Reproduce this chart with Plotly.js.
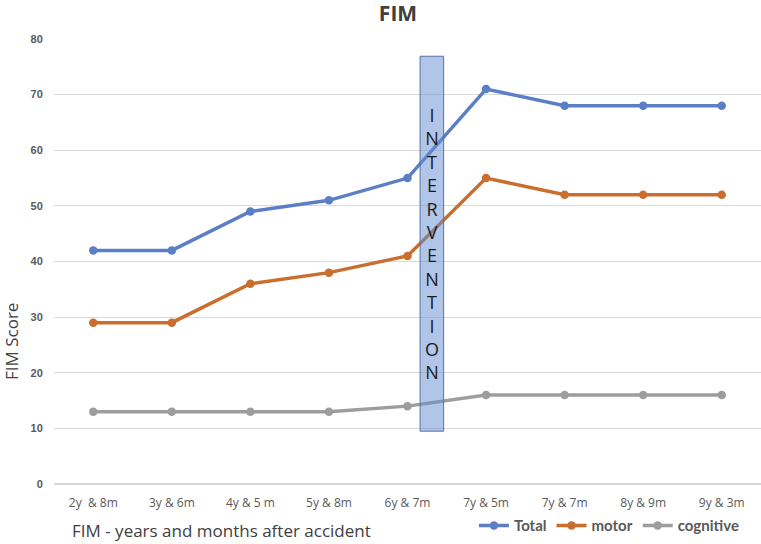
<!DOCTYPE html>
<html>
<head>
<meta charset="utf-8">
<script src="https://cdn.plot.ly/plotly-3.0.1.min.js"></script>
<style>html,body{margin:0;padding:0;background:#fff;}#chart{width:761px;height:544px;}</style>
</head>
<body>
<div id="chart"></div>
<script>
const categories = ["2y  & 8m", "3y & 6m", "4y & 5 m", "5y & 8m", "6y & 7m", "7y & 5m", "7y & 7m", "8y & 9m", "9y & 3m"];
const total = [42, 42, 49, 51, 55, 71, 68, 68, 68];
const motor = [29, 29, 36, 38, 41, 55, 52, 52, 52];
const cognitive = [13, 13, 13, 13, 14, 16, 16, 16, 16];
const interventionLabel = "INTERVENTION";

const idx = categories.map((c, i) => i);
function series(name, y, color) {
  return {
    type: 'scatter', mode: 'lines+markers', name: name,
    x: idx, y: y,
    line: {color: color, width: 3.5},
    marker: {color: color, size: 8.5}
  };
}
const data = [
  series('Total', total, '#5b7fc7'),
  series('motor', motor, '#c96e2e'),
  series('cognitive', cognitive, '#9d9d9d')
];
const layout = {
  width: 761, height: 544,
  margin: {l: 54, r: 0, t: 39, b: 60},
  paper_bgcolor: '#fff', plot_bgcolor: '#fff',
  font: {family: 'Open Sans, Liberation Sans, sans-serif', color: '#595959'},
  title: {text: '<b>FIM</b>', x: 0.523, xanchor: 'center', y: 1 - 14 / 544, yanchor: 'middle', pad: {t: 0, b: 0},
          font: {size: 21, color: '#404040', family: 'Open Sans, Liberation Sans, sans-serif'}},
  xaxis: {
    range: [-0.5, 8.5], tickmode: 'array', tickvals: idx, ticktext: categories,
    showgrid: false, zeroline: false, showline: false,
    ticks: 'outside', ticklen: 8, tickcolor: 'rgba(0,0,0,0)',
    tickfont: {size: 12, color: '#595959'}
  },
  yaxis: {
    range: [0, 80], dtick: 10, showgrid: true, gridcolor: '#d9d9d9', gridwidth: 1,
    zeroline: true, zerolinecolor: '#d9d9d9', zerolinewidth: 1.5, showline: false,
    ticks: 'outside', ticklen: 8, tickcolor: 'rgba(0,0,0,0)',
    tickfont: {size: 11, color: '#595959', family: 'Liberation Sans, Arial, sans-serif', weight: 'bold'}
  },
  showlegend: true,
  legend: {orientation: 'h', x: 0.594, xanchor: 'left', y: -0.094, yanchor: 'middle',
           font: {size: 15, color: '#595959', weight: 'bold', family: 'Lato, Open Sans, sans-serif'},
           tracegroupgap: 0, bgcolor: 'rgba(0,0,0,0)'},
  shapes: [{
    type: 'rect', xref: 'x', yref: 'y', x0: 4.16, x1: 4.46, y0: 9.5, y1: 76.9,
    fillcolor: 'rgba(100,140,210,0.5)', line: {color: '#5573a8', width: 1}, layer: 'above'
  }],
  annotations: [
    {text: interventionLabel.split('').join('<br>'), xref: 'x', yref: 'paper', x: 4.31, y: (484 - 243) / 445,
     showarrow: false, xanchor: 'center', yanchor: 'middle',
     font: {size: 18, color: '#1a1a1a', family: 'Open Sans, Liberation Sans, sans-serif'}},
    {text: 'FIM Score', xref: 'paper', yref: 'paper', x: -54 / 707 + 12 / 707, y: (484 - 342) / 445,
     textangle: -90, showarrow: false, xanchor: 'center', yanchor: 'middle',
     font: {size: 17, color: '#404040'}},
    {text: 'FIM - years and months after accident', xref: 'paper', yref: 'paper',
     x: (70 - 54) / 707, y: (484 - 530) / 445, showarrow: false, xanchor: 'left', yanchor: 'middle',
     font: {size: 17, color: '#404040'}}
  ]
};
Plotly.newPlot('chart', data, layout, {displayModeBar: false, staticPlot: true});
</script>
</body>
</html>
